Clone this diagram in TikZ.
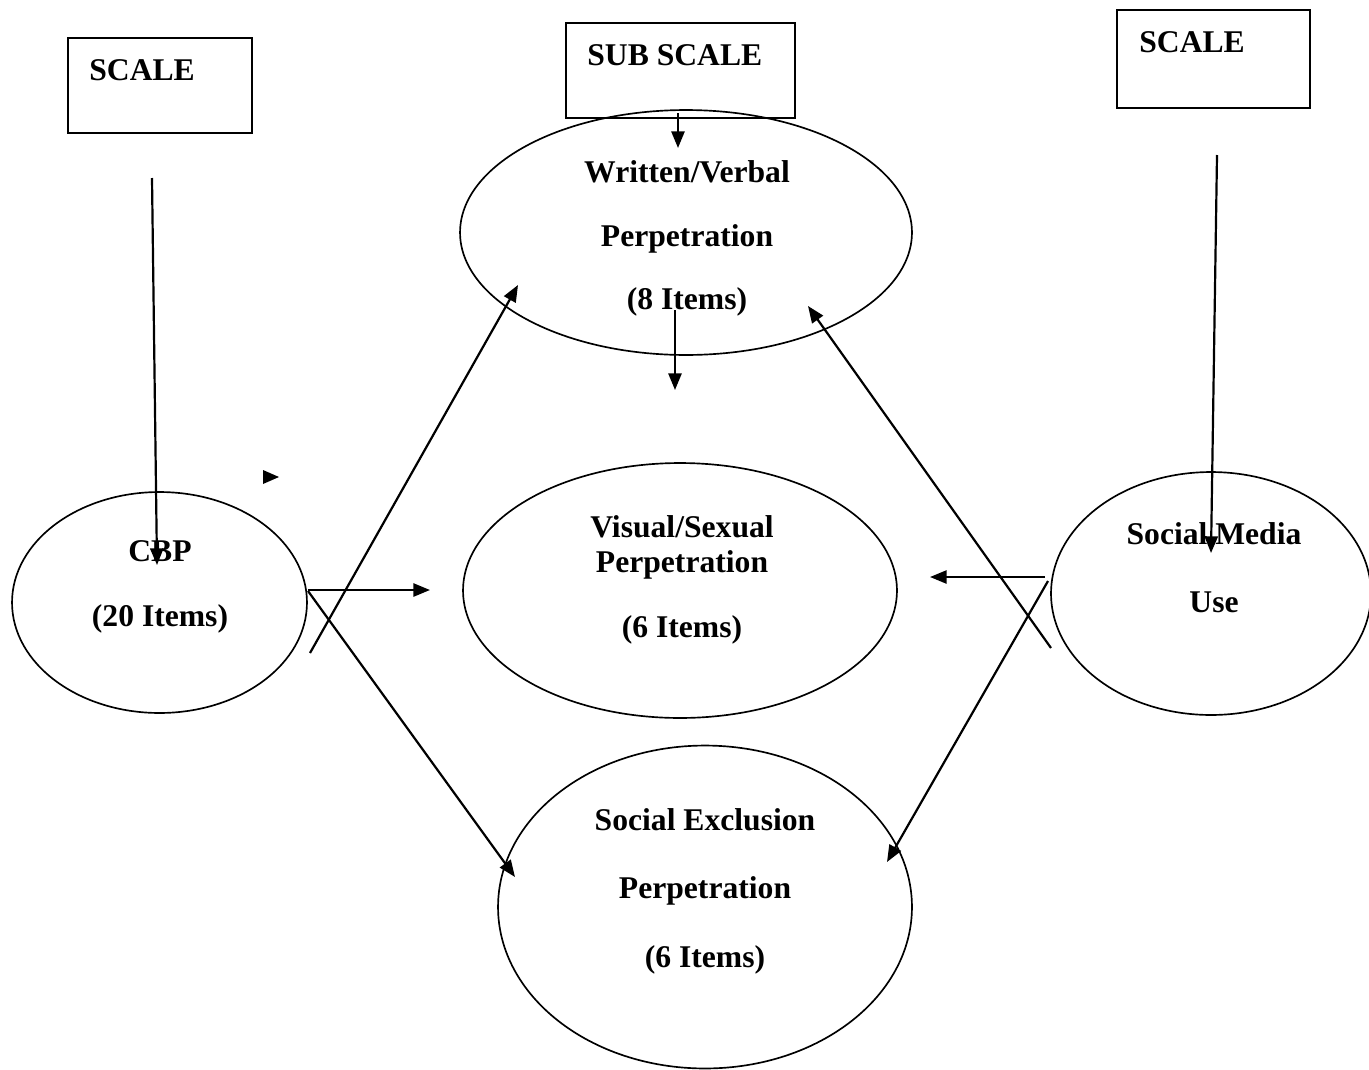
\documentclass[tikz,border=0pt]{standalone}
\usepackage{fontspec}
\setmainfont{Liberation Serif}
\usepackage{tikz}
\usetikzlibrary{shapes.geometric, arrows.meta, positioning, calc}

\begin{document}
\begin{tikzpicture}[
    x=0.02cm, y=-0.02cm,
    scalebox/.style={draw, rectangle, line width=1.1pt, inner sep=0pt},
    oval/.style={draw, ellipse, line width=0.95pt, inner sep=0pt},
    txt/.style={inner sep=0pt, align=center, font=\bfseries\fontsize{18}{36}\selectfont},
    tag/.style={inner sep=0pt, anchor=base west, font=\bfseries\fontsize{18}{36}\selectfont},
    arrow/.style={line width=1.25pt, -{Triangle[length=9.5pt, width=7.5pt]}}
]
\useasboundingbox (0,0) rectangle (1369,1069);

% scale boxes
\node (scaleL) [scalebox, minimum width=3.68cm, minimum height=1.9cm] at (160,85.5) {};
\node (subscale) [scalebox, minimum width=4.58cm, minimum height=1.9cm] at (680.5,70.5) {};
\node (scaleR) [scalebox, minimum width=3.86cm, minimum height=1.96cm] at (1213.5,59) {};
\node (scaleLtxt) [tag] at (89,80) {SCALE};
\node (subscaletxt) [tag] at (587,65) {SUB SCALE};
\node (scaleRtxt) [tag] at (1139,52) {SCALE};

% ovals
\node (wv) [oval, minimum width=9.04cm, minimum height=4.9cm] at (686,232.5) {};
\node (cbp) [oval, minimum width=5.9cm, minimum height=4.42cm] at (159.5,602.5) {};
\node (vs) [oval, minimum width=8.68cm, minimum height=5.1cm] at (680,590.5) {};
\node (smu) [oval, minimum width=6.4cm, minimum height=4.86cm] at (1211,593.5) {};
\node (se) [oval, minimum width=8.28cm, minimum height=6.46cm] at (705,907) {};

\node (wvtxt) [txt] at (687,238.5) {Written/Verbal\\Perpetration\\(8 Items)};
\node (cbptxt) [txt] at (160,587) {CBP\\[1pt](20 Items)};
\node (vstxt) [txt] at (682,580) {Visual/Sexual\\[-16pt]Perpetration\\[1pt](6 Items)};
\node (smutxt) [txt] at (1214,568) {Social Media\\[2.7pt]Use};
\node (setxt) [txt] at (705,891) {Social Exclusion\\[3pt]Perpetration\\[3pt](6 Items)};

% free ends
\coordinate (l1) at (152,178);
\coordinate (l2) at (157,565);
\coordinate (s1) at (678,113);
\coordinate (s2) at (678,148);
\coordinate (w1) at (675,310);
\coordinate (w2) at (675,390);
\coordinate (r1) at (1217,155);
\coordinate (r2) at (1211,553);
\coordinate (c1) at (308,590);
\coordinate (c2) at (430,590);
\coordinate (c3) at (310,653);
\coordinate (c4) at (518,285);
\coordinate (c5) at (308,591);
\coordinate (c6) at (515,877);
\coordinate (m1) at (1045,577);
\coordinate (m2) at (930,577);
\coordinate (m3) at (1051,648);
\coordinate (m4) at (808,306);
\coordinate (m5) at (1048,581);
\coordinate (m6) at (887,862);
\coordinate (stray) at (263,477);

\draw[arrow] (l1) -- (l2);
\draw[arrow] (s1) -- (s2);
\draw[arrow] (w1) -- (w2);
\draw[arrow] (r1) -- (r2);
\draw[arrow] (c1) -- (c2);
\draw[arrow] (c3) -- (c4);
\draw[arrow] (c5) -- (c6);
\draw[arrow] (m1) -- (m2);
\draw[arrow] (m3) -- (m4);
\draw[arrow] (m5) -- (m6);
\fill (stray) ++(0,-7) -- ++(16,7) -- ++(-16,7) -- cycle;
\end{tikzpicture}
\end{document}
